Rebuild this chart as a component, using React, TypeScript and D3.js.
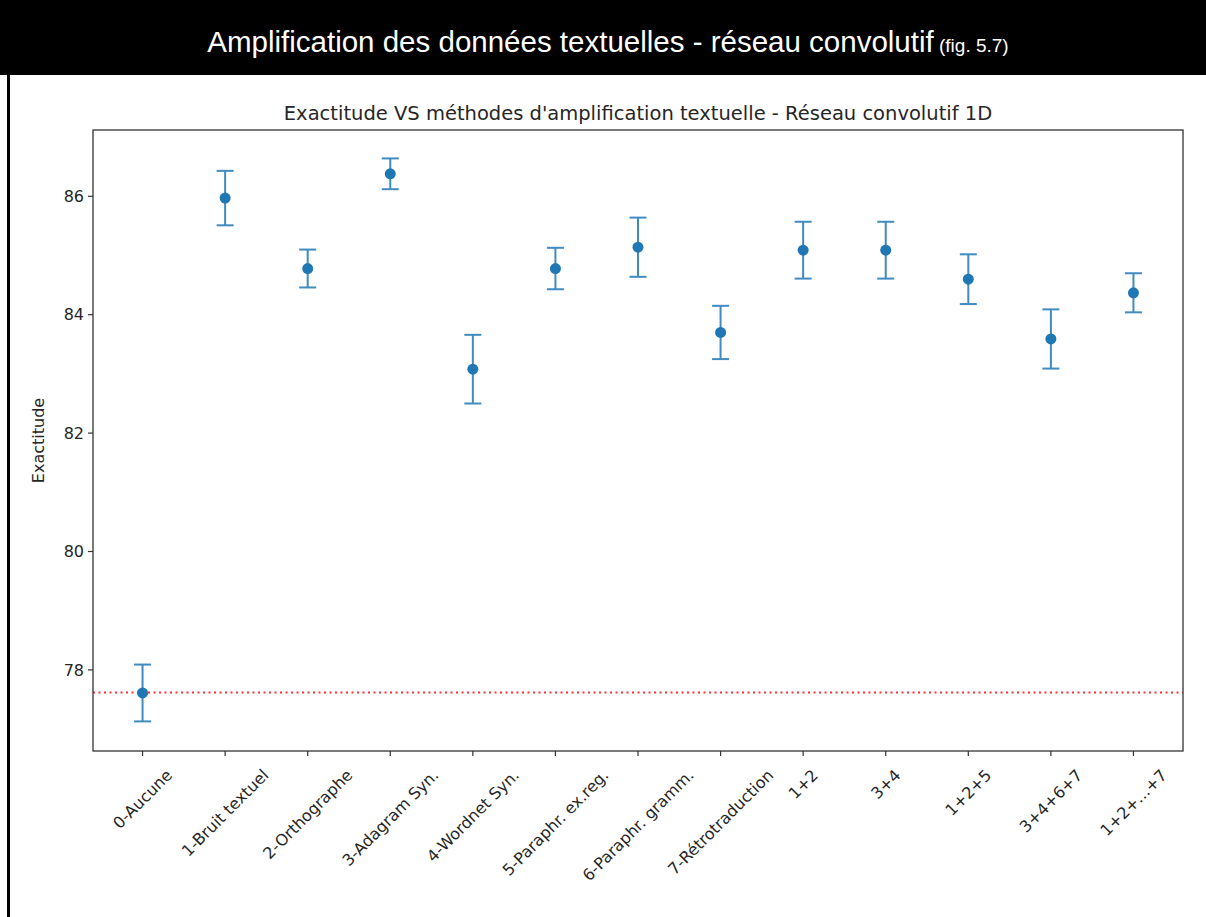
import { useMemo } from "react";
import * as d3 from "d3";

const categories = [
    "0-Aucune",
    "1-Bruit textuel",
    "2-Orthographe",
    "3-Adagram Syn.",
    "4-Wordnet Syn.",
    "5-Paraphr. ex.reg.",
    "6-Paraphr. gramm.",
    "7-Rétrotraduction",
    "1+2",
    "3+4",
    "1+2+5",
    "3+4+6+7",
    "1+2+...+7",
];
const accuracy = [77.61, 85.97, 84.78, 86.38, 83.08, 84.78, 85.14, 83.7, 85.09, 85.09, 84.6, 83.59, 84.37];
const errors = [0.48, 0.46, 0.32, 0.26, 0.58, 0.35, 0.5, 0.45, 0.48, 0.48, 0.42, 0.5, 0.33];
const yTicks = [78, 80, 82, 84, 86];
const baseline = 77.62;

const W = 1206;
const H = 917;
const margin = { left: 93, right: 23, top: 130, bottom: 166 };
const BLUE = "#1f77b4";
const TICK_FONT = "DejaVu Sans";

let ctx: CanvasRenderingContext2D | null = null;
function textWidth(s: string, size: number) {
    if (!ctx) ctx = document.createElement("canvas").getContext("2d");
    if (!ctx) return s.length * size * 0.6;
    ctx.font = `${size}px "${TICK_FONT}"`;
    return ctx.measureText(s).width;
}

export default function App() {
    const innerW = W - margin.left - margin.right;
    const innerH = H - margin.top - margin.bottom;

    const x = useMemo(() => d3.scaleLinear().domain([-0.6, categories.length - 1 + 0.6]).range([0, innerW]), [innerW]);
    const y = useMemo(() => d3.scaleLinear().domain([76.63, 87.12]).range([innerH, 0]), [innerH]);

    const labelSize = 16;

    return (
        <svg width={W} height={H} style={{ position: "absolute", left: 0, top: 0, background: "#fff" }}>
            <rect x={0} y={0} width={W} height={75} fill="#000" />
            <rect x={7} y={75} width={3} height={H - 75} fill="#000" />
            <text x={608} y={52} textAnchor="middle" fill="#fff" style={{ fontFamily: "Liberation Sans, Arial", fontSize: 29.5 }}>
                Amplification des données textuelles - réseau convolutif
                <tspan style={{ fontSize: 19 }}> (fig. 5.7)</tspan>
            </text>

            <text x={margin.left + innerW / 2} y={120} textAnchor="middle" fill="#262626" style={{ fontFamily: TICK_FONT, fontSize: 19.5 }}>
                Exactitude VS méthodes d'amplification textuelle - Réseau convolutif 1D
            </text>

            <g transform={`translate(${margin.left}, ${margin.top})`}>
                <line x1={0} x2={innerW} y1={y(baseline)} y2={y(baseline)} stroke="red" strokeWidth={2} strokeDasharray="2 3.5" opacity={0.8} />

                {accuracy.map((v, i) => {
                    const cx = x(i);
                    const y0 = y(v - errors[i]);
                    const y1 = y(v + errors[i]);
                    return (
                        <g key={categories[i]} stroke={BLUE} strokeWidth={2}>
                            <g opacity={0.85}>
                                <line x1={cx} x2={cx} y1={y0} y2={y1} />
                                <line x1={cx - 8.5} x2={cx + 8.5} y1={y0} y2={y0} />
                                <line x1={cx - 8.5} x2={cx + 8.5} y1={y1} y2={y1} />
                            </g>
                            <circle cx={cx} cy={y(v)} r={5.5} fill={BLUE} stroke="none" />
                        </g>
                    );
                })}

                <rect x={0} y={0} width={innerW} height={innerH} fill="none" stroke="#333" strokeWidth={1.3} />

                {yTicks.map(t => (
                    <g key={t} transform={`translate(0, ${y(t)})`}>
                        <line x1={-5} x2={0} stroke="#333" strokeWidth={1.2} />
                        <text x={-9} dy="0.36em" textAnchor="end" fill="#262626" style={{ fontFamily: TICK_FONT, fontSize: 16 }}>{t}</text>
                    </g>
                ))}

                {categories.map((c, i) => {
                    const w = textWidth(c, labelSize);
                    const h = labelSize * 0.75;
                    const half = (w + h) / (2 * Math.SQRT2);
                    const top = innerH + 17;
                    return (
                        <g key={c}>
                            <line x1={x(i)} x2={x(i)} y1={innerH} y2={innerH + 5} stroke="#333" strokeWidth={1.2} />
                            <text
                                transform={`translate(${x(i)}, ${top + half}) rotate(-45)`}
                                textAnchor="middle"
                                dy="0.35em"
                                fill="#262626"
                                style={{ fontFamily: TICK_FONT, fontSize: labelSize }}
                            >
                                {c}
                            </text>
                        </g>
                    );
                })}

                <text
                    transform={`translate(-49, ${innerH / 2}) rotate(-90)`}
                    textAnchor="middle"
                    fill="#262626"
                    style={{ fontFamily: TICK_FONT, fontSize: 16 }}
                >
                    Exactitude
                </text>
            </g>
        </svg>
    );
}
